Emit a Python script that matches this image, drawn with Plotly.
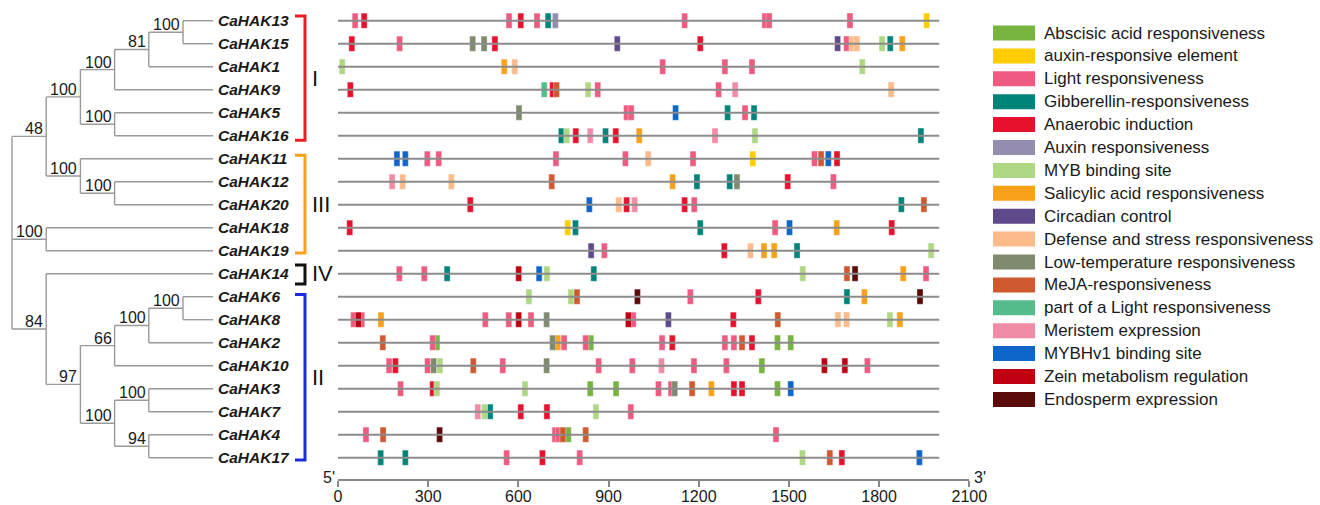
import plotly.graph_objects as go

# ---------------- data ----------------
genes = ["CaHAK13", "CaHAK15", "CaHAK1", "CaHAK9", "CaHAK5", "CaHAK16",
         "CaHAK11", "CaHAK12", "CaHAK20", "CaHAK18", "CaHAK19", "CaHAK14",
         "CaHAK6", "CaHAK8", "CaHAK2", "CaHAK10", "CaHAK3", "CaHAK7",
         "CaHAK4", "CaHAK17"]
promoter_length = [2000] * 20

element_codes = ["ABA", "AuxRE", "Light", "GA", "Anaer", "Aux", "MYB", "SA",
                 "Circ", "Def", "LT", "MeJA", "pLight", "Mer", "MYBHv1",
                 "Zein", "Endo"]
element_names = ["Abscisic acid responsiveness", "auxin-responsive element",
                 "Light responsiveness", "Gibberellin-responsiveness",
                 "Anaerobic induction", "Auxin responsiveness",
                 "MYB binding site", "Salicylic acid responsiveness",
                 "Circadian control", "Defense and stress responsiveness",
                 "Low-temperature responsiveness", "MeJA-responsiveness",
                 "part of a Light responsiveness", "Meristem expression",
                 "MYBHv1 binding site", "Zein metabolism regulation",
                 "Endosperm expression"]
element_colors = ["#77B43F", "#FFCC00", "#EF5B80", "#00847A", "#E8112D",
                  "#948DB0", "#AED884", "#F9A11B", "#5E4A8B", "#FDBA8A",
                  "#7F8A6E", "#D05A30", "#55BD8C", "#F08CA6", "#0F66C9",
                  "#C00010", "#5B0A0A"]

# element positions (centre, bp) per gene
CaHAK13 = [(57, "Light"), (87, "Anaer"), (569, "Light"), (608, "Anaer"), (662, "Light"),
           (699, "GA"), (723, "Aux"), (1153, "Light"), (1420, "Light"), (1434, "Light"),
           (1703, "Light"), (1958, "AuxRE")]
CaHAK15 = [(46, "Anaer"), (205, "Light"), (448, "LT"), (486, "LT"), (522, "Anaer"),
           (929, "Circ"), (1205, "Anaer"), (1662, "Circ"), (1692, "Light"), (1710, "Def"),
           (1726, "Def"), (1810, "MYB"), (1837, "GA"), (1877, "SA")]
CaHAK1 = [(14, "MYB"), (553, "SA"), (588, "Def"), (1080, "Light"), (1287, "Light"),
          (1377, "Light"), (1744, "MYB")]
CaHAK9 = [(41, "Anaer"), (686, "pLight"), (714, "Anaer"), (727, "MeJA"), (832, "MYB"),
          (864, "Light"), (1266, "Light"), (1321, "Mer"), (1840, "Def")]
CaHAK5 = [(602, "LT"), (960, "Light"), (975, "Light"), (1123, "MYBHv1"), (1296, "GA"),
          (1354, "Light"), (1384, "GA")]
CaHAK16 = [(743, "GA"), (761, "MYB"), (791, "Anaer"), (839, "Mer"), (890, "GA"),
           (924, "Anaer"), (1002, "SA"), (1254, "Mer"), (1387, "MYB"), (1939, "GA")]
CaHAK11 = [(196, "MYBHv1"), (224, "MYBHv1"), (297, "Light"), (335, "Light"), (725, "Light"),
           (956, "Light"), (1032, "Def"), (1181, "Light"), (1380, "AuxRE"), (1585, "Light"),
           (1607, "MeJA"), (1631, "MYBHv1"), (1660, "Anaer")]
CaHAK12 = [(180, "Mer"), (215, "Def"), (377, "Def"), (711, "MeJA"), (1113, "SA"),
           (1194, "GA"), (1303, "GA"), (1327, "LT"), (1496, "Anaer"), (1648, "Light")]
CaHAK20 = [(440, "Anaer"), (836, "MYBHv1"), (934, "Def"), (960, "Anaer"), (987, "Mer"),
           (1153, "Anaer"), (1185, "Light"), (1874, "GA"), (1949, "MeJA")]
CaHAK18 = [(39, "Anaer"), (764, "AuxRE"), (790, "GA"), (1205, "GA"), (1454, "Light"),
           (1502, "MYBHv1"), (1659, "SA"), (1842, "Anaer")]
CaHAK19 = [(842, "Circ"), (886, "Light"), (1285, "Anaer"), (1372, "Def"), (1417, "SA"),
           (1451, "SA"), (1527, "GA"), (1973, "MYB")]
CaHAK14 = [(204, "Light"), (287, "Light"), (363, "GA"), (601, "Zein"), (669, "MYBHv1"),
           (695, "MYB"), (851, "GA"), (1546, "MYB"), (1693, "MeJA"), (1720, "Endo"),
           (1880, "SA"), (1956, "Light")]
CaHAK6 = [(635, "MYB"), (775, "MYB"), (795, "MeJA"), (996, "Endo"), (1172, "Light"),
          (1398, "Anaer"), (1693, "GA"), (1751, "SA"), (1936, "Endo")]
CaHAK8 = [(52, "Light"), (79, "Light"), (68, "Zein"), (143, "SA"), (490, "Light"),
          (568, "Light"), (601, "Zein"), (642, "Light"), (694, "LT"), (966, "Zein"),
          (982, "Light"), (1099, "Circ"), (1315, "Anaer"), (1463, "MeJA"), (1663, "Def"),
          (1692, "Def"), (1836, "MYB"), (1869, "SA")]
CaHAK2 = [(149, "MeJA"), (315, "Light"), (329, "ABA"), (714, "LT"), (731, "SA"),
          (752, "Light"), (824, "Light"), (841, "ABA"), (1078, "Light"), (1112, "Anaer"),
          (1287, "Light"), (1317, "Light"), (1344, "MeJA"), (1377, "Anaer"), (1462, "ABA"),
          (1506, "ABA")]
CaHAK10 = [(170, "Light"), (191, "Anaer"), (298, "Light"), (318, "LT"), (339, "MYB"),
           (450, "MeJA"), (548, "Light"), (694, "LT"), (867, "Light"), (979, "Light"),
           (1076, "Mer"), (1184, "Light"), (1292, "Light"), (1410, "ABA"), (1618, "Zein"),
           (1686, "Zein"), (1761, "Light")]
CaHAK3 = [(208, "Light"), (315, "Anaer"), (329, "MYB"), (622, "MYB"), (839, "ABA"),
          (925, "ABA"), (1066, "Light"), (1108, "Light"), (1120, "LT"), (1178, "MeJA"),
          (1242, "SA"), (1317, "Anaer"), (1344, "Anaer"), (1462, "ABA"), (1506, "MYBHv1")]
CaHAK7 = [(465, "Mer"), (487, "MYB"), (506, "GA"), (608, "Anaer"), (695, "Anaer"),
          (858, "MYB"), (974, "Light")]
CaHAK4 = [(93, "Light"), (150, "MeJA"), (338, "Endo"), (722, "Light"), (733, "Light"),
          (748, "MeJA"), (766, "ABA"), (824, "MeJA"), (1457, "Light")]
CaHAK17 = [(142, "GA"), (224, "GA"), (561, "Light"), (680, "Anaer"), (804, "Light"),
           (1545, "MYB"), (1636, "MeJA"), (1676, "Anaer"), (1934, "MYBHv1")]

gene_elements = [CaHAK13, CaHAK15, CaHAK1, CaHAK9, CaHAK5, CaHAK16, CaHAK11, CaHAK12,
                 CaHAK20, CaHAK18, CaHAK19, CaHAK14, CaHAK6, CaHAK8, CaHAK2, CaHAK10,
                 CaHAK3, CaHAK7, CaHAK4, CaHAK17]

# neighbour-joining tree: (bootstrap, depth level, children)
tree = ("", 0, [
    ("48", 1, [
        ("100", 2, [
            ("100", 3, [
                ("81", 4, [("100", 5, ["CaHAK13", "CaHAK15"]), "CaHAK1"]),
                "CaHAK9"]),
            ("100", 3, ["CaHAK5", "CaHAK16"])]),
        ("100", 2, ["CaHAK11", ("100", 3, ["CaHAK12", "CaHAK20"])])]),
    ("100", 1, ["CaHAK18", "CaHAK19"]),
    ("84", 1, [
        "CaHAK14",
        ("97", 2, [
            ("66", 3, [("100", 4, [("100", 5, ["CaHAK6", "CaHAK8"]), "CaHAK2"]), "CaHAK10"]),
            ("100", 3, [("100", 4, ["CaHAK3", "CaHAK7"]), ("94", 4, ["CaHAK4", "CaHAK17"])])])])])

groups = ["I", "III", "IV", "II"]
group_first = [0, 6, 11, 12]
group_last = [5, 10, 11, 19]
group_colors = ["#EE1C25", "#F7A21B", "#111111", "#1B2BE3"]

axis_ticks = [0, 300, 600, 900, 1200, 1500, 1800, 2100]

# ---------------- geometry ----------------
W, H = 1320, 505
BOX = 20          # element box length in bp
LEAF_DEPTH = 5.88
FONT = "Liberation Sans, Arial, sans-serif"

fig = go.Figure()

# promoter lines
lx, ly = [], []
for i, L in enumerate(promoter_length):
    lx += [0, L, None]
    ly += [i, i, None]
fig.add_trace(go.Scatter(x=lx, y=ly, mode="lines", line=dict(color="#8C8C8C", width=2),
                         hoverinfo="skip", showlegend=False, xaxis="x", yaxis="y"))

# element boxes, one bar trace per element type
for code, name, col in zip(element_codes, element_names, element_colors):
    xs, ys = [], []
    for i, els in enumerate(gene_elements):
        for p, c in els:
            if c == code:
                xs.append(p)
                ys.append(i)
    if not xs:
        continue
    fig.add_trace(go.Bar(
        x=[BOX] * len(xs), base=[p - BOX / 2 for p in xs], y=ys, orientation="h",
        width=0.66, marker=dict(color=col, line=dict(color="rgba(255,255,255,0.6)", width=0.6)),
        name=name, showlegend=False, hovertemplate=name + ": %{base}<extra></extra>",
        xaxis="x", yaxis="y"))

# tree
tx, ty, boots = [], [], []


def walk(node):
    if isinstance(node, str):
        return genes.index(node), LEAF_DEPTH
    label, depth, kids = node
    pos = [walk(k) for k in kids]
    ys = [p[0] for p in pos]
    y = (min(ys) + max(ys)) / 2
    tx.extend([depth, depth, None])
    ty.extend([min(ys), max(ys), None])
    for cy, cd in pos:
        tx.extend([depth, cd, None])
        ty.extend([cy, cy, None])
    if label:
        boots.append((depth, y, label))
    return y, depth


walk(tree)
fig.add_trace(go.Scatter(x=tx, y=ty, mode="lines", line=dict(color="#9A9A9A", width=1.4),
                         hoverinfo="skip", showlegend=False, xaxis="x2", yaxis="y"))

annotations = []
for d, y, lab in boots:
    annotations.append(dict(x=d, y=y, xref="x2", yref="y", text=lab, showarrow=False,
                            xanchor="right", yanchor="bottom", xshift=-1, yshift=-3,
                            font=dict(family=FONT, size=16, color="#1a1a1a")))
for i, g in enumerate(genes):
    annotations.append(dict(x=LEAF_DEPTH, y=i, xref="x2", yref="y",
                            text="<b><i>" + g + "</i></b>", showarrow=False,
                            xanchor="left", yanchor="middle", xshift=3,
                            font=dict(family=FONT, size=15.5, color="#1a1a1a")))

# group brackets
bpad_top = [0.2, 0.15, 0.38, 0.1]
bpad_bot = [0.2, 0.1, 0.45, 0.1]
for g, a, b, col, pt, pb in zip(groups, group_first, group_last, group_colors, bpad_top, bpad_bot):
    fig.add_trace(go.Scatter(x=[8.275, 8.567, 8.567, 8.275], y=[a - pt, a - pt, b + pb, b + pb],
                             mode="lines", line=dict(color=col, width=3),
                             hoverinfo="skip", showlegend=False, xaxis="x2", yaxis="y"))
    annotations.append(dict(x=8.72, y=(a + b) / 2, xref="x2", yref="y", text=g,
                            showarrow=False, xanchor="left", yanchor="middle",
                            font=dict(family=FONT, size=22, color="#111111")))

# 5' / 3'
annotations.append(dict(x=0, y=1 - 477 / H, xref="x", yref="paper", text="5'", showarrow=False,
                        xanchor="right", yanchor="middle", xshift=-1,
                        font=dict(family=FONT, size=16, color="#1a1a1a")))
annotations.append(dict(x=2100, y=1 - 477 / H, xref="x", yref="paper", text="3'", showarrow=False,
                        xanchor="left", yanchor="middle", xshift=3,
                        font=dict(family=FONT, size=16, color="#1a1a1a")))

# custom legend
shapes = []
for i, (name, col) in enumerate(zip(element_names, element_colors)):
    yc = 33 + 22.9 * i
    shapes.append(dict(type="rect", xref="paper", yref="paper",
                       x0=993 / W, x1=1035 / W, y0=1 - (yc - 7.5) / H, y1=1 - (yc + 7.5) / H,
                       fillcolor=col, line=dict(width=0)))
    annotations.append(dict(x=1042 / W, y=1 - yc / H, xref="paper", yref="paper", text=name,
                            showarrow=False, xanchor="left", yanchor="middle",
                            font=dict(family=FONT, size=17, color="#1a1a1a")))

AX_Y = 479
row0, step = 20.7, 23.0
fig.update_layout(
    width=W, height=H, margin=dict(l=0, r=0, t=0, b=0),
    paper_bgcolor="white", plot_bgcolor="white", barmode="overlay",
    showlegend=False, annotations=annotations, shapes=shapes,
    font=dict(family=FONT),
    xaxis=dict(domain=[338 / W, 969.3 / W], range=[0, 2100], tickvals=axis_ticks,
               showline=True, linecolor="#888888", linewidth=1.5, ticks="outside",
               ticklen=6, tickcolor="#888888", tickwidth=1.5, showgrid=False,
               zeroline=False, tickfont=dict(family=FONT, size=16, color="#1a1a1a"),
               ticklabelstandoff=-4,
               anchor="y", automargin=False, fixedrange=True),
    xaxis2=dict(domain=[0, 338 / W], range=[-12 / 34.2, (338 - 12) / 34.2], visible=False,
                anchor="y", fixedrange=True),
    yaxis=dict(domain=[(H - AX_Y) / H, 1], range=[(AX_Y - row0) / step, -row0 / step],
               visible=False, fixedrange=True),
)

fig.write_html("out.html", config={"displayModeBar": False},
               post_script="document.body.style.margin='0px';document.body.style.overflow='hidden';")
